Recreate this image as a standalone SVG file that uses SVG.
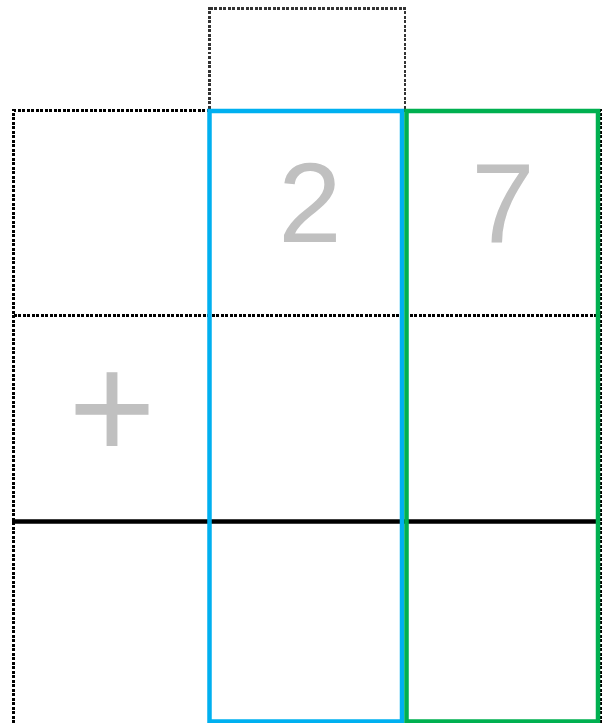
<svg xmlns="http://www.w3.org/2000/svg" width="605" height="723" viewBox="0 0 605 723">
<style>
.dot{fill:none;stroke:#000;stroke-width:3;stroke-dasharray:3 1.5;shape-rendering:crispEdges}
.dotg{fill:none;stroke:#333;stroke-width:2.5;stroke-dasharray:3 1.5;shape-rendering:crispEdges}
.dig{font-family:"Liberation Sans",Arial,sans-serif;fill:#c0c0c0;text-anchor:middle}
</style>
<rect width="605" height="723" fill="#fff"/>
<g id="grid">
<rect class="dotg" x="209.5" y="8.5" width="195.5" height="102"/>
<path class="dot" d="M13.5,723 V110.5 H600.5 V723"/>
<path class="dot" d="M13.5,315.7 H600.5"/>
</g>
<g id="sum-line">
<path d="M12,521.5 H600" stroke="#000" stroke-width="4.5"/>
</g>
<g id="col-tens">
<rect x="209.5" y="111" width="192.5" height="610.5" fill="none" stroke="#00b0f0" stroke-width="4.5"/>
<text class="dig" x="310" y="242" font-size="114">2</text>
</g>
<g id="col-ones">
<rect x="406.5" y="111" width="191.5" height="610.5" fill="none" stroke="#00b050" stroke-width="4.5"/>
<text class="dig" x="503" y="243" font-size="114">7</text>
</g>
<g id="op">
<text class="dig" x="112" y="459" font-size="150">+</text>
</g>
</svg>
